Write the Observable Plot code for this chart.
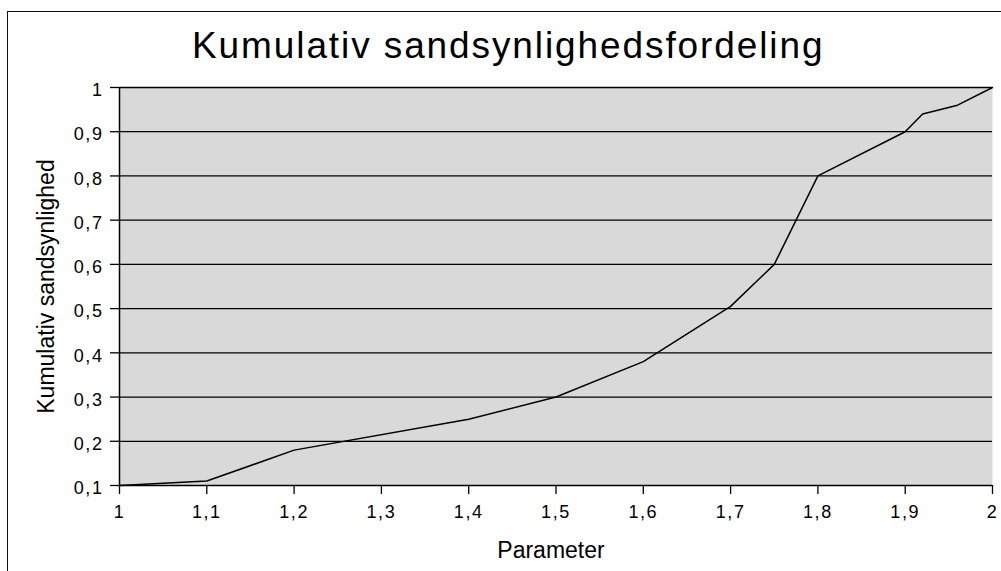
<!DOCTYPE html>
<html><head><meta charset="utf-8">
<script src="https://cdn.jsdelivr.net/npm/d3@7"></script>
<script src="https://cdn.jsdelivr.net/npm/@observablehq/plot@0.6"></script>
<style>
html,body{margin:0;padding:0;background:#fff;}
#wrap{position:relative;width:1001px;height:571px;overflow:hidden;font-family:"Liberation Sans",Arial,sans-serif;background:#fff;}
#border{position:absolute;left:7px;top:11px;width:1200px;height:800px;border-left:1.5px solid #111;border-top:1.5px solid #111;pointer-events:none}
#title{height:70px;box-sizing:border-box;padding-top:27px;padding-left:192px;font-size:37px;line-height:37px;letter-spacing:1.9px;color:#000;white-space:nowrap}
#chart svg{display:block}
g[aria-label="y-axis tick label"] text, g[aria-label="x-axis tick label"] text{letter-spacing:1.6px;font-size:18px}
g[aria-label="ytitle"] text, g[aria-label="xtitle"] text{letter-spacing:1px;font-size:23px}
</style>
</head><body>
<div id="wrap">
  <div id="border"></div>
  <div id="title">Kumulativ sandsynlighedsfordeling</div>
  <div id="chart"></div>
</div>
<script>
const param   = [1, 1.1, 1.2, 1.4, 1.5, 1.6, 1.7, 1.75, 1.8, 1.9, 1.92, 1.96, 2];
const cumProb = [0.1, 0.11, 0.18, 0.25, 0.30, 0.38, 0.505, 0.6, 0.8, 0.9, 0.94, 0.96, 1.0];
const xTicks = [1, 1.1, 1.2, 1.3, 1.4, 1.5, 1.6, 1.7, 1.8, 1.9, 2];
const yTicks = [0.1, 0.2, 0.3, 0.4, 0.5, 0.6, 0.7, 0.8, 0.9, 1];
const xTitle = "Parameter";
const yTitle = "Kumulativ sandsynlighed";

const rows = param.map((p, i) => ({x: p, y: cumProb[i]}));
const fmt = d => String(d).replace(".", ",");

const chart = Plot.plot({
  width: 1001,
  height: 501,
  marginTop: 17,
  marginBottom: 86,
  marginLeft: 119,
  marginRight: 9,
  style: {fontFamily: "'Liberation Sans', Arial, sans-serif", fontSize: "18px", color: "#000", background: "transparent"},
  x: {domain: [1, 2]},
  y: {domain: [0.1, 1]},
  marks: [
    Plot.frame({fill: "#d9d9d9", stroke: null}),
    Plot.gridY(yTicks.slice(1), {stroke: "#000", strokeOpacity: 1, strokeWidth: 1.3}),
    Plot.ruleX([1], {stroke: "#000", strokeWidth: 1.5}),
    Plot.ruleY([0.1], {stroke: "#000", strokeWidth: 1.5}),
    Plot.axisY(yTicks, {tickSize: 9, tickFormat: () => "", label: null, stroke: "#000", strokeWidth: 1.3}),
    Plot.axisY(yTicks, {tickSize: 0, tickPadding: 16, tickFormat: fmt, label: null, dy: 3, fill: "#000", fontSize: 18}),
    Plot.axisX(xTicks, {tickSize: 9, tickPadding: 11, tickFormat: fmt, label: null, stroke: "#000", strokeWidth: 1.3, fill: "#000", fontSize: 18}),
    Plot.line(rows, {x: "x", y: "y", stroke: "#000", strokeWidth: 1.5}),
    Plot.text([yTitle], {text: d => d, frameAnchor: "left", rotate: -90, textAnchor: "middle", lineAnchor: "bottom", dx: -66, fontSize: 23, fill: "#000", ariaLabel: "ytitle"}),
    Plot.text([xTitle], {text: d => d, frameAnchor: "bottom", textAnchor: "middle", lineAnchor: "bottom", dy: 72, dx: -5, fontSize: 23, fill: "#000", ariaLabel: "xtitle"})
  ]
});
document.getElementById("chart").appendChild(chart);
</script>
</body></html>
